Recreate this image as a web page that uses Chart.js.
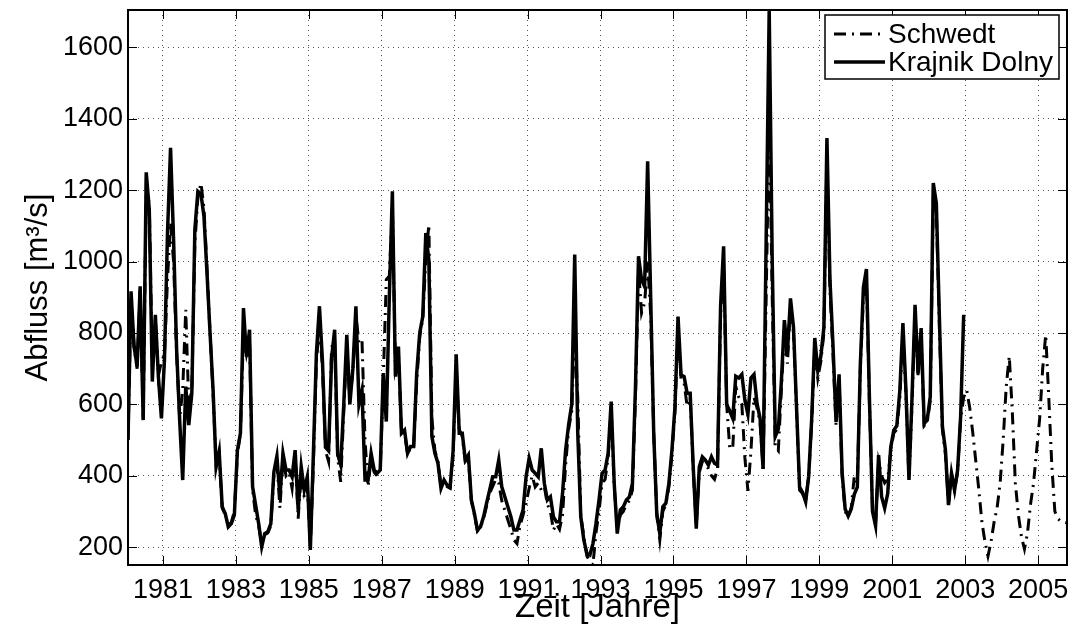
<!DOCTYPE html>
<html>
<head>
<meta charset="utf-8">
<script src="https://cdn.jsdelivr.net/npm/chart.js@4.4.0/dist/chart.umd.min.js"></script>
<style>
  html, body { margin: 0; padding: 0; background: #fff; }
  #wrap { width: 1072px; height: 625px; }
</style>
</head>
<body>
<div id="wrap"><canvas id="flowChart" width="1072" height="625"></canvas></div>
<script>
// monthly mean discharge, one line per year, first value = Jan 1980
const START_YEAR = 1980;

const SCHWEDT = [
  500, 900, 760, 700, 920, 560, 1200, 1164, 700, 840, 680, 720,
  740, 950, 1110, 1000, 740, 560, 640, 865, 600, 640, 1050, 1180,
  1220, 1150, 980, 800, 630, 430, 460, 310, 290, 260, 270, 300,
  460, 520, 800, 740, 780, 360, 290, 260, 210, 235, 240, 260,
  400, 440, 309, 450, 400, 410, 365, 460, 280, 410, 340, 370,
  200, 430, 720, 820, 700, 470, 440, 760, 780, 450, 383, 580,
  760, 620, 690, 850, 772, 780, 500, 369, 450, 410, 400, 410,
  670, 950, 960, 1150, 700, 740, 520, 520, 460, 480, 480, 660,
  790, 840, 1005, 1104, 560, 470, 440, 370, 380, 370, 365, 460,
  700, 530, 510, 440, 450, 330, 290, 245, 255, 280, 315, 350,
  370, 390, 379, 330, 304, 276, 250, 220, 210, 260, 290, 323,
  365, 400, 369, 380, 360, 370, 320, 300, 248, 265, 250, 290,
  430, 530, 580, 800, 620, 290, 230, 175, 160, 150, 240, 300,
  379, 390, 450, 590, 370, 250, 290, 300, 320, 330, 360, 620,
  980, 856, 884, 1000, 850, 520, 290, 220, 300, 320, 370, 460,
  580, 820, 670, 660, 594, 620, 420, 260, 410, 440, 430, 420,
  400, 390, 420, 850, 1000, 600, 480, 475, 650, 620, 600, 450,
  358, 470, 620, 590, 550, 420, 900, 1400, 900, 480, 470, 640,
  800, 714, 880, 800, 580, 360, 350, 330, 400, 550, 760, 674,
  720, 800, 1300, 920, 740, 540, 670, 400, 300, 285, 310, 399,
  380, 700, 900, 950, 600, 300, 265, 440, 400, 380, 390, 470,
  520, 530, 620, 800, 630, 390, 600, 850, 680, 790, 540, 550,
  610, 1180, 1140, 820, 530, 460, 320, 400, 360, 410, 560, 620,
  640, 590, 520, 440, 360, 270, 215, 175, 215, 270, 310, 380,
  500, 650, 735, 580, 380, 290, 230, 195, 240, 320, 380, 470,
  560, 700, 795, 620, 430, 300, 280, 272, 270, 268
];

const KRAJNIK = [
  500, 917, 762, 706, 931, 556, 1250, 1146, 664, 851, 678, 561,
  725, 1080, 1319, 1061, 753, 556, 388, 650, 542, 631, 1090, 1197,
  1190, 1127, 968, 800, 640, 425, 468, 313, 294, 257, 266, 290,
  472, 519, 870, 734, 809, 369, 318, 266, 201, 238, 243, 266,
  410, 455, 341, 463, 416, 416, 397, 472, 304, 425, 360, 397,
  192, 460, 744, 875, 720, 480, 470, 730, 809, 460, 430, 600,
  795, 600, 700, 875, 600, 640, 388, 388, 463, 416, 407, 416,
  687, 552, 903, 1197, 678, 762, 519, 528, 463, 482, 482, 687,
  800, 846, 1080, 1005, 510, 463, 435, 365, 388, 374, 369, 472,
  740, 519, 519, 444, 458, 332, 294, 248, 257, 285, 323, 360,
  397, 397, 444, 369, 341, 313, 285, 248, 248, 276, 304, 397,
  449, 416, 407, 397, 477, 379, 332, 341, 285, 271, 271, 351,
  472, 543, 599, 1020, 520, 285, 220, 182, 178, 210, 266, 332,
  407, 416, 463, 608, 379, 238, 304, 313, 332, 341, 379, 650,
  1015, 949, 930, 1281, 900, 519, 294, 238, 313, 323, 379, 472,
  594, 846, 683, 678, 631, 631, 425, 252, 425, 453, 444, 430,
  453, 435, 430, 875, 1043, 600, 582, 561, 679, 674, 684, 612,
  572, 674, 684, 602, 561, 419, 1060, 1705, 1000, 510, 531, 663,
  836, 745, 897, 816, 592, 368, 353, 327, 399, 562, 786, 694,
  735, 816, 1346, 948, 765, 551, 684, 409, 307, 287, 307, 348,
  368, 714, 928, 979, 612, 300, 260, 458, 341, 309, 350, 480,
  528, 540, 640, 828, 640, 388, 620, 879, 687, 814, 547, 556,
  622, 1220, 1164, 846, 538, 472, 318, 407, 360, 416, 566, 851
];

const SERIES_NAMES = ["Schwedt", "Krajnik Dolny"];
const X_TICKS = [1981, 1983, 1985, 1987, 1989, 1991, 1993, 1995, 1997, 1999, 2001, 2003, 2005];
const Y_TICKS = [200, 400, 600, 800, 1000, 1200, 1400, 1600];

const FONT = "'Liberation Sans', Arial, Helvetica, sans-serif";

function toPoints(values) {
  return values.map((v, i) => ({ x: START_YEAR + (i + 0.5) / 12, y: v }));
}

// box, inward tick marks (top/bottom/left/right) like a matlab axes
const axesBox = {
  id: "axesBox",
  afterDatasetsDraw(chart) {
    const { ctx, chartArea: a, scales } = chart;
    const len = 9;
    ctx.save();
    ctx.setLineDash([]);
    ctx.strokeStyle = "#000";
    ctx.lineWidth = 1;
    ctx.beginPath();
    X_TICKS.forEach(v => {
      const px = Math.round(scales.x.getPixelForValue(v)) + 0.5;
      ctx.moveTo(px, a.bottom); ctx.lineTo(px, a.bottom - len);
      ctx.moveTo(px, a.top); ctx.lineTo(px, a.top + len);
    });
    Y_TICKS.forEach(v => {
      const py = Math.round(scales.y.getPixelForValue(v)) + 0.5;
      ctx.moveTo(a.left, py); ctx.lineTo(a.left + len, py);
      ctx.moveTo(a.right, py); ctx.lineTo(a.right - len, py);
    });
    ctx.stroke();
    ctx.lineWidth = 2;
    ctx.strokeRect(a.left, a.top, a.right - a.left, a.bottom - a.top);
    ctx.restore();
  }
};

// legend drawn inside the axes, top right, with a framed white box
const legendBox = {
  id: "legendBox",
  afterDraw(chart) {
    const { ctx, chartArea: a } = chart;
    const w = 234, h = 64;
    const left = a.right - 8 - w, top = a.top + 5;
    ctx.save();
    ctx.fillStyle = "#fff";
    ctx.fillRect(left, top, w, h);
    ctx.strokeStyle = "#000";
    ctx.lineWidth = 1.5;
    ctx.setLineDash([]);
    ctx.strokeRect(left, top, w, h);
    ctx.font = "28px " + FONT;
    ctx.textBaseline = "middle";
    ctx.fillStyle = "#000";
    chart.data.datasets.forEach((ds, i) => {
      const cy = top + 19 + i * 28;
      ctx.beginPath();
      ctx.setLineDash(ds.borderDash || []);
      ctx.lineWidth = ds.borderWidth;
      ctx.moveTo(left + 9, cy);
      ctx.lineTo(left + 60, cy);
      ctx.stroke();
      ctx.fillText(ds.label, left + 63, cy + 1);
    });
    ctx.restore();
  }
};

new Chart(document.getElementById("flowChart"), {
  type: "line",
  data: {
    datasets: [
      {
        label: SERIES_NAMES[0],
        data: toPoints(SCHWEDT),
        borderColor: "#000",
        borderWidth: 3,
        borderDash: [12, 6, 2, 6],
        pointRadius: 0,
        fill: false,
        tension: 0
      },
      {
        label: SERIES_NAMES[1],
        data: toPoints(KRAJNIK),
        borderColor: "#000",
        borderWidth: 3.5,
        pointRadius: 0,
        fill: false,
        tension: 0
      }
    ]
  },
  options: {
    responsive: false,
    animation: false,
    devicePixelRatio: 1,
    layout: { padding: { top: 10, right: 5, left: 0, bottom: 0 } },
    plugins: {
      legend: { display: false },
      tooltip: { enabled: false }
    },
    scales: {
      x: {
        type: "linear",
        min: START_YEAR + 0.5 / 12,
        max: START_YEAR + (SCHWEDT.length - 0.5) / 12,
        afterBuildTicks: s => { s.ticks = X_TICKS.map(v => ({ value: v })); },
        afterFit: s => { s.height = 60; s.paddingLeft = 0; s.paddingRight = 0; },
        grid: { color: "#555", lineWidth: 1, drawTicks: false },
        border: { display: false, dash: [1, 4] },
        ticks: {
          color: "#000",
          padding: 9,
          maxRotation: 0,
          autoSkip: false,
          font: { family: FONT, size: 27 },
          callback: v => String(v)
        },
        title: {
          display: true,
          text: "Zeit [Jahre]",
          color: "#000",
          font: { family: FONT, size: 33 },
          padding: { top: 0, bottom: -3 }
        }
      },
      y: {
        type: "linear",
        min: 150,
        max: 1705,
        afterBuildTicks: s => { s.ticks = Y_TICKS.map(v => ({ value: v })); },
        afterFit: s => { s.width = 128; s.paddingTop = 0; s.paddingBottom = 0; },
        grid: { color: "#555", lineWidth: 1, drawTicks: false },
        border: { display: false, dash: [1, 4] },
        ticks: {
          color: "#000",
          padding: 5,
          font: { family: FONT, size: 27 },
          callback: v => String(v)
        },
        title: {
          display: true,
          text: "Abfluss [m³/s]",
          color: "#000",
          font: { family: FONT, size: 31 },
          padding: { top: 20, bottom: 0 }
        }
      }
    }
  },
  plugins: [axesBox, legendBox]
});
</script>
</body>
</html>
